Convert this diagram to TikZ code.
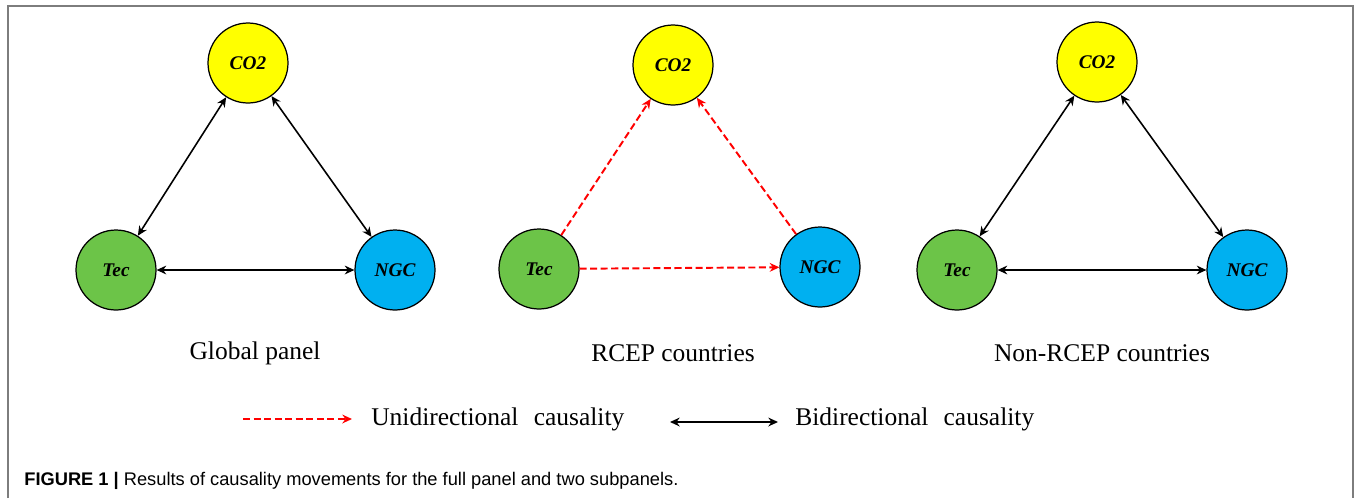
\documentclass[tikz,border=0pt]{standalone}
\usepackage{fontspec}
\setmainfont{Liberation Serif}
\setsansfont{Liberation Sans}
\usetikzlibrary{arrows.meta}

\definecolor{coyellow}{RGB}{255,255,0}
\definecolor{tecgreen}{RGB}{108,196,72}
\definecolor{ngcblue}{RGB}{0,176,240}
\definecolor{framegray}{RGB}{125,125,125}

\tikzset{
  var/.style={draw, shape=circle, minimum size=1.6cm, inner sep=0pt, line width=0.7pt,
    font=\fontsize{11}{12}\selectfont\bfseries\itshape},
  bidir/.style={{Stealth[length=5.5pt,width=5pt]}-{Stealth[length=5.5pt,width=5pt]}, line width=0.9pt},
  unidir/.style={-{Stealth[length=5.5pt,width=5pt]}, red, dash pattern=on 4pt off 2pt, line width=1.1pt},
  paneltext/.style={font=\fontsize{14.5}{17}\selectfont}
}

\begin{document}
\begin{tikzpicture}[x=0.02cm, y=-0.02cm]
  \useasboundingbox (0,0) rectangle (1356,498);
  % Frame
  \draw[framegray, line width=1.1pt] (8,498) -- (8,6) -- (1353,6) -- (1353,498);

  % Global panel
  \node[var, fill=coyellow] (gco) at (248,63) {CO2};
  \node[var, fill=tecgreen] (gtec) at (116,270) {Tec};
  \node[var, fill=ngcblue] (gngc) at (395,270) {NGC};
  \draw[bidir] (gco) edge (gtec);
  \draw[bidir] (gco) edge (gngc);
  \draw[bidir] (gtec) edge (gngc);
  \node[paneltext] (glabel) at (255,353) {Global panel};

  % RCEP countries
  \node[var, fill=coyellow] (rco) at (673,65) {CO2};
  \node[var, fill=tecgreen] (rtec) at (539,269) {Tec};
  \node[var, fill=ngcblue] (rngc) at (820,267) {NGC};
  \draw[unidir] (rtec) edge (rco);
  \draw[unidir] (rngc) edge (rco);
  \draw[unidir] (rtec) edge (rngc);
  \node[paneltext] (rlabel) at (673,353) {RCEP countries};

  % Non-RCEP countries
  \node[var, fill=coyellow] (nco) at (1097,62) {CO2};
  \node[var, fill=tecgreen] (ntec) at (957,270) {Tec};
  \node[var, fill=ngcblue] (nngc) at (1247,270) {NGC};
  \draw[bidir] (nco) edge (ntec);
  \draw[bidir] (nco) edge (nngc);
  \draw[bidir] (ntec) edge (nngc);
  \node[paneltext] (nlabel) at (1102,353) {Non-RCEP countries};

  % Legend
  \coordinate (ua) at (243,419);
  \coordinate (ub) at (352,419);
  \draw[unidir] (ua) -- (ub);
  \node[paneltext, anchor=west, inner sep=0pt] (utext) at (371,419) {Unidirectional\hspace{0.35em} causality};
  \coordinate (ba) at (670,422);
  \coordinate (bb) at (778,422);
  \draw[bidir] (ba) -- (bb);
  \node[paneltext, anchor=west, inner sep=0pt] (btext) at (795,419) {Bidirectional\hspace{0.35em} causality};

  % Caption
  \node[anchor=west, inner sep=0pt, font=\sffamily\fontsize{10.4}{12}\selectfont] (cap) at (24,481)
    {\textbf{FIGURE 1 |} Results of causality movements for the full panel and two subpanels.};
\end{tikzpicture}
\end{document}
